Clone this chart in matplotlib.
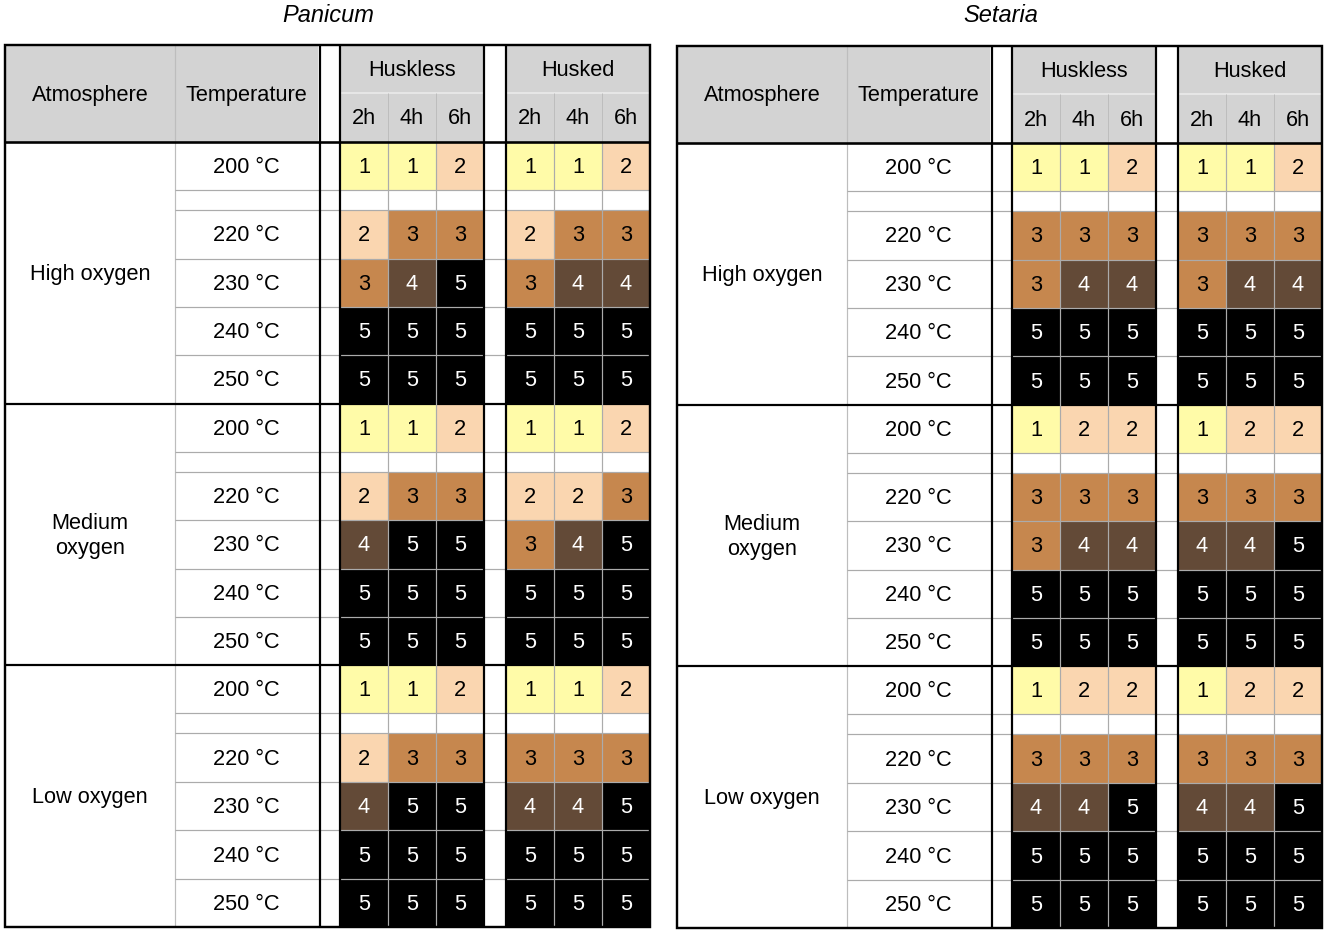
import matplotlib
matplotlib.use("Agg")
import matplotlib.pyplot as plt
from matplotlib.patches import Rectangle

# ---------------- data ----------------
species = ["Panicum", "Setaria"]
atmospheres = ["High oxygen", "Medium\noxygen", "Low oxygen"]
temperatures = ["200 °C", "220 °C", "230 °C", "240 °C", "250 °C"]
durations = ["2h", "4h", "6h"]
husk_types = ["Huskless", "Husked"]

# rows: 200, 220, 230, 240, 250 ; columns: 2h, 4h, 6h ; groups: high, medium, low oxygen
panicum_huskless = [
    [[1, 1, 2], [2, 3, 3], [3, 4, 5], [5, 5, 5], [5, 5, 5]],
    [[1, 1, 2], [2, 3, 3], [4, 5, 5], [5, 5, 5], [5, 5, 5]],
    [[1, 1, 2], [2, 3, 3], [4, 5, 5], [5, 5, 5], [5, 5, 5]],
]
panicum_husked = [
    [[1, 1, 2], [2, 3, 3], [3, 4, 4], [5, 5, 5], [5, 5, 5]],
    [[1, 1, 2], [2, 2, 3], [3, 4, 5], [5, 5, 5], [5, 5, 5]],
    [[1, 1, 2], [3, 3, 3], [4, 4, 5], [5, 5, 5], [5, 5, 5]],
]
setaria_huskless = [
    [[1, 1, 2], [3, 3, 3], [3, 4, 4], [5, 5, 5], [5, 5, 5]],
    [[1, 2, 2], [3, 3, 3], [3, 4, 4], [5, 5, 5], [5, 5, 5]],
    [[1, 2, 2], [3, 3, 3], [4, 4, 5], [5, 5, 5], [5, 5, 5]],
]
setaria_husked = [
    [[1, 1, 2], [3, 3, 3], [3, 4, 4], [5, 5, 5], [5, 5, 5]],
    [[1, 2, 2], [3, 3, 3], [4, 4, 5], [5, 5, 5], [5, 5, 5]],
    [[1, 2, 2], [3, 3, 3], [4, 4, 5], [5, 5, 5], [5, 5, 5]],
]

level_colors = {1: "#FFFBA8", 2: "#FAD6B0", 3: "#C6874E", 4: "#634A37", 5: "#000000"}
level_text = {1: "black", 2: "black", 3: "black", 4: "white", 5: "white"}

# ---------------- layout (pixels) ----------------
W, H = 1327, 935
FONT = ["Liberation Sans", "DejaVu Sans"]
FS = 15.7
TDY = 1.5  # text baseline nudge
HEADER_GRAY = "#D3D3D3"
GRID = "#ABABAB"

fig = plt.figure(figsize=(W / 100, H / 100), dpi=100)
ax = fig.add_axes([0, 0, 1, 1])
ax.set_xlim(0, W)
ax.set_ylim(H, 0)
ax.axis("off")

panel_x0 = [5, 677]
panel_dy = [0, 1]
col_atm = (0, 170)
col_temp = (170, 313)
block_x = [335, 501]
cell_w = 48
panel_w = 645
header_top, header_mid, body_top = 45, 93, 142
group_h = 261.7
row_offsets = [(0, 48), (68, 116.5), (116.5, 165), (165, 213.3), (213.3, 261.7)]
blank_row = (48, 68)


def lw_px(px):
    return px * 72 / 100


def hline(y, x1, x2, color, px):
    ax.plot([x1, x2], [y, y], color=color, lw=lw_px(px), solid_capstyle="butt", zorder=5)


def vline(x, y1, y2, color, px):
    ax.plot([x, x], [y1, y2], color=color, lw=lw_px(px), solid_capstyle="butt", zorder=5)


def txt(x, y, s, color="black", **kw):
    ax.text(x, y + TDY, s, ha="center", va="center", fontsize=FS, color=color,
            family=FONT, zorder=6, linespacing=1.25, **kw)


all_data = {
    "Panicum": [panicum_huskless, panicum_husked],
    "Setaria": [setaria_huskless, setaria_husked],
}

for p, name in enumerate(species):
    x0 = panel_x0[p]
    dy = panel_dy[p]
    top = header_top + dy
    mid = header_mid + dy
    btop = body_top + dy
    bottom = btop + 3 * group_h

    # title
    ax.text(x0 + panel_w / 2 + 1, 15 + dy, name, ha="center", va="center",
            fontsize=17, style="italic", family=FONT)

    # header backgrounds
    ax.add_patch(Rectangle((x0 + col_atm[0], top), col_temp[1] - col_atm[0], btop - top,
                           facecolor=HEADER_GRAY, edgecolor="none", zorder=1))
    for bx in block_x:
        ax.add_patch(Rectangle((x0 + bx, top), 3 * cell_w, btop - top,
                               facecolor=HEADER_GRAY, edgecolor="none", zorder=1))
    txt(x0 + sum(col_atm) / 2, (top + btop) / 2, "Atmosphere")
    txt(x0 + sum(col_temp) / 2, (top + btop) / 2, "Temperature")
    for b, bx in enumerate(block_x):
        txt(x0 + bx + 1.5 * cell_w, (top + mid) / 2, husk_types[b])
        for k, d in enumerate(durations):
            txt(x0 + bx + (k + 0.5) * cell_w, (mid + btop) / 2, d)
        hline(mid, x0 + bx, x0 + bx + 3 * cell_w, "#EDEDED", 1.5)
        for k in (1, 2):
            vline(x0 + bx + k * cell_w, mid, btop, "#BDBDBD", 1)
    vline(x0 + col_atm[1], top, bottom, "#BDBDBD", 1.2)

    # body
    for g in range(3):
        gy = btop + g * group_h
        txt(x0 + sum(col_atm) / 2, gy + group_h / 2, atmospheres[g])
        for r, (ya, yb) in enumerate(row_offsets):
            txt(x0 + sum(col_temp) / 2, gy + (ya + yb) / 2, temperatures[r])
            for b, bx in enumerate(block_x):
                vals = all_data[name][b][g][r]
                for k, v in enumerate(vals):
                    ax.add_patch(Rectangle((x0 + bx + k * cell_w, gy + ya), cell_w, yb - ya,
                                           facecolor=level_colors[v], edgecolor="none", zorder=2))
                    txt(x0 + bx + (k + 0.5) * cell_w, gy + (ya + yb) / 2, str(v),
                        color=level_text[v])
        # horizontal gray row lines
        for yy in [blank_row[0], blank_row[1]] + [ro[1] for ro in row_offsets[1:-1]]:
            hline(gy + yy, x0 + col_temp[0], x0 + panel_w, GRID, 1.2)
        if g > 0:
            hline(gy, x0, x0 + panel_w, "black", 2.2)

    # vertical gray lines between duration columns in body
    for bx in block_x:
        for k in (1, 2):
            vline(x0 + bx + k * cell_w, btop, bottom, GRID, 1.2)

    # black structure lines
    hline(btop, x0, x0 + panel_w, "black", 2.6)
    for xx in [col_temp[1] + 2, block_x[0], block_x[0] + 3 * cell_w, block_x[1]]:
        vline(x0 + xx, top, bottom, "black", 2.2)
    ax.add_patch(Rectangle((x0, top), panel_w, bottom - top, facecolor="none",
                           edgecolor="black", lw=lw_px(2.4), zorder=7))

fig.savefig("out.png", dpi=100)
